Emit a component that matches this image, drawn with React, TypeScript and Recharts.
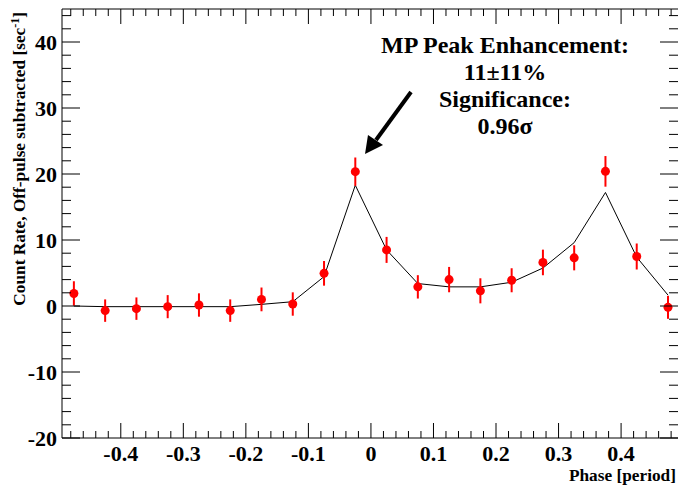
import React from 'react';
import { ComposedChart, Line, Scatter, ErrorBar, XAxis, YAxis } from 'recharts';

// phase bins (centres), measured rate, its error and the model curve
const PHASE = [
  -0.475, -0.425, -0.375, -0.325, -0.275, -0.225, -0.175, -0.125, -0.075, -0.025,
  0.025, 0.075, 0.125, 0.175, 0.225, 0.275, 0.325, 0.375, 0.425, 0.475,
];
const RATE = [1.9, -0.7, -0.4, -0.1, 0.15, -0.7, 1.0, 0.3, 4.95, 20.35, 8.5, 2.9, 4.0, 2.3, 3.9, 6.6, 7.3, 20.4, 7.5, -0.2];
const RATE_ERR = [1.85, 1.7, 1.7, 1.75, 1.77, 1.7, 1.8, 1.77, 1.87, 2.15, 1.97, 1.77, 1.92, 1.9, 1.82, 1.94, 1.9, 2.32, 1.97, 1.74];
const MODEL = [0, -0.1, -0.1, -0.1, -0.1, -0.1, 0.25, 0.65, 4.45, 18.3, 8.5, 3.4, 2.9, 2.9, 3.6, 5.75, 9.6, 17.2, 7.4, 1.65];

const Y_LABELS = [-20, -10, 0, 10, 20, 30, 40];
const X_LABELS = [-0.4, -0.3, -0.2, -0.1, 0, 0.1, 0.2, 0.3, 0.4];

const NOTE_LINES = ['MP Peak Enhancement:', '11\u00b111%', 'Significance:', '0.96\u03c3'];

const data = PHASE.map((x, i) => ({ x, rate: RATE[i], err: RATE_ERR[i], model: MODEL[i] }));

// minor ticks every 2 (y) and every 0.02 (x)
const yTicks: number[] = [];
for (let v = -20; v <= 44; v += 2) yTicks.push(v);
const xTicks: number[] = [];
for (let k = -48; k <= 48; k += 2) xTicks.push(k / 100);

const W = 680;
const H = 489;
const PLOT_LEFT = 62;
const PLOT_RIGHT = 678;
const PLOT_TOP = 9;
const PLOT_BOTTOM = 438;
const FONT = '"Liberation Serif", "DejaVu Serif", serif';

function YTick(props: any) {
  const { x, y, payload } = props;
  const v = payload.value;
  const major = Y_LABELS.includes(v);
  const len = major ? 18 : 9;
  return (
    <g>
      <line x1={x} x2={x + len} y1={y} y2={y} stroke="#000" />
      <line x1={PLOT_RIGHT} x2={PLOT_RIGHT - len} y1={y} y2={y} stroke="#000" />
      {major && (
        <text x={x - 5} y={y + 8} textAnchor="end" fontFamily={FONT} fontWeight="bold" fontSize={22} fill="#000">
          {v}
        </text>
      )}
    </g>
  );
}

function XTick(props: any) {
  const { x, y, payload } = props;
  const v = payload.value;
  const major = X_LABELS.some((m) => Math.abs(m - v) < 1e-6);
  const len = major ? 15 : 7;
  return (
    <g>
      <line x1={x} x2={x} y1={y} y2={y - len} stroke="#000" />
      <line x1={x} x2={x} y1={PLOT_TOP} y2={PLOT_TOP + len} stroke="#000" />
      {major && (
        <text x={x} y={y + 23} textAnchor="middle" fontFamily={FONT} fontWeight="bold" fontSize={22} fill="#000">
          {Math.abs(v) < 1e-6 ? '0' : String(Math.round(v * 10) / 10)}
        </text>
      )}
    </g>
  );
}

const Dot = (props: any) => <circle cx={props.cx} cy={props.cy} r={4.5} fill="#ff0000" />;

export default function App() {
  return (
    <div style={{ position: 'absolute', left: 0, top: 0, width: 678, height: H, overflow: 'hidden', background: '#fff' }}>
      <ComposedChart width={W} height={H} data={data} margin={{ top: PLOT_TOP, right: W - PLOT_RIGHT, left: 0, bottom: 0 }}>
        <XAxis
          type="number"
          dataKey="x"
          domain={[-0.494, 0.491]}
          ticks={xTicks}
          interval={0}
          tick={<XTick />}
          tickLine={false}
          tickSize={0}
          tickMargin={0}
          height={H - PLOT_BOTTOM}
          axisLine={{ stroke: '#000' }}
        />
        <YAxis
          type="number"
          domain={[-20, 45]}
          ticks={yTicks}
          interval={0}
          tick={<YTick />}
          tickLine={false}
          tickSize={0}
          tickMargin={0}
          width={PLOT_LEFT}
          axisLine={{ stroke: '#000' }}
        />
        <Line
          type="linear"
          dataKey="model"
          stroke="#000"
          strokeWidth={1}
          dot={false}
          activeDot={false}
          isAnimationActive={false}
        />
        <Scatter dataKey="rate" fill="#ff0000" shape={<Dot />} isAnimationActive={false}>
          <ErrorBar dataKey="err" direction="y" width={0} stroke="#ff0000" strokeWidth={2} />
        </Scatter>
      </ComposedChart>
      <svg
        width={678}
        height={H}
        style={{ position: 'absolute', left: 0, top: 0, pointerEvents: 'none' }}
      >
        <line x1={PLOT_LEFT} x2={PLOT_RIGHT} y1={PLOT_TOP} y2={PLOT_TOP} stroke="#000" />
        {NOTE_LINES.map((t, i) => (
          <text
            key={t}
            x={505}
            y={53 + i * 27}
            textAnchor="middle"
            fontFamily={FONT}
            fontWeight="bold"
            fontSize={24}
            fill="#000"
          >
            {t}
          </text>
        ))}
        <line x1={411} y1={92} x2={376} y2={140} stroke="#000" strokeWidth={4} />
        <polygon points="365,154 368,135 383,145" fill="#000" />
        <text
          transform="translate(25, 12) rotate(-90)"
          textAnchor="end"
          fontFamily={FONT}
          fontWeight="bold"
          fontSize={17.3}
          fill="#000"
        >
          Count Rate, Off-pulse subtracted [sec
          <tspan dy={-6} fontSize={12}>-1</tspan>
          <tspan dy={6}>]</tspan>
        </text>
        <text x={676} y={481} textAnchor="end" fontFamily={FONT} fontWeight="bold" fontSize={17.3} fill="#000">
          Phase [period]
        </text>
      </svg>
    </div>
  );
}
